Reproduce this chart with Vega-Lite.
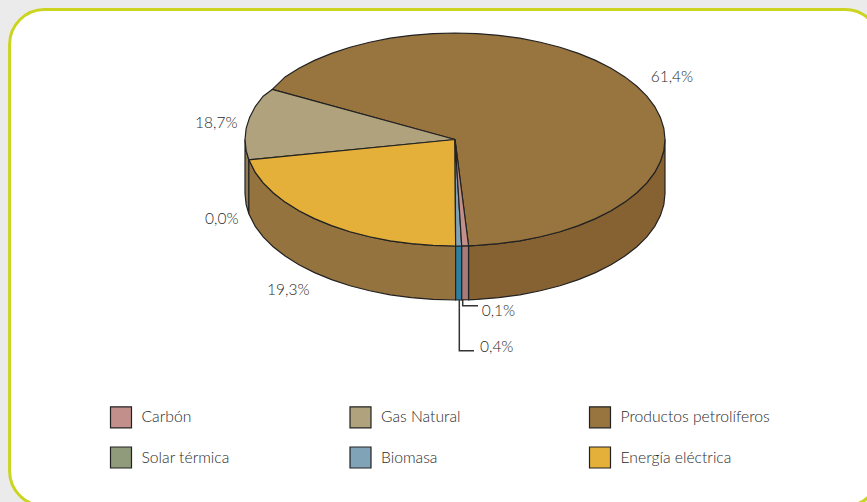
{
"$schema":"https://vega.github.io/schema/vega-lite/v6.json",
"width":867,"height":502,"padding":0,"autosize":{"type":"none"},
"background":"#ebebeb",
"config":{"view":{"stroke":null},"text":{"font":"Lato"}},
"datasets":{
"marco":[{"x":-2.121,"x2":2.024,"y":1.221,"y2":-3.441}],
"superior":[
{"fuente":"Productos petrolíferos","o":0,"x":0,"y":0},{"fuente":"Productos petrolíferos","o":1,"x":0.0645,"y":-0.9979},{"fuente":"Productos petrolíferos","o":2,"x":0.1045,"y":-0.9945},{"fuente":"Productos petrolíferos","o":3,"x":0.2079,"y":-0.9781},{"fuente":"Productos petrolíferos","o":4,"x":0.309,"y":-0.9511},{"fuente":"Productos petrolíferos","o":5,"x":0.4067,"y":-0.9135},{"fuente":"Productos petrolíferos","o":6,"x":0.5,"y":-0.866},{"fuente":"Productos petrolíferos","o":7,"x":0.5878,"y":-0.809},{"fuente":"Productos petrolíferos","o":8,"x":0.6691,"y":-0.7431},{"fuente":"Productos petrolíferos","o":9,"x":0.7431,"y":-0.6691},{"fuente":"Productos petrolíferos","o":10,"x":0.809,"y":-0.5878},{"fuente":"Productos petrolíferos","o":11,"x":0.866,"y":-0.5},{"fuente":"Productos petrolíferos","o":12,"x":0.9135,"y":-0.4067},{"fuente":"Productos petrolíferos","o":13,"x":0.9511,"y":-0.309},{"fuente":"Productos petrolíferos","o":14,"x":0.9781,"y":-0.2079},{"fuente":"Productos petrolíferos","o":15,"x":0.9945,"y":-0.1045},{"fuente":"Productos petrolíferos","o":16,"x":1,"y":0},{"fuente":"Productos petrolíferos","o":17,"x":0.9945,"y":0.1045},{"fuente":"Productos petrolíferos","o":18,"x":0.9781,"y":0.2079},{"fuente":"Productos petrolíferos","o":19,"x":0.9511,"y":0.309},{"fuente":"Productos petrolíferos","o":20,"x":0.9135,"y":0.4067},{"fuente":"Productos petrolíferos","o":21,"x":0.866,"y":0.5},{"fuente":"Productos petrolíferos","o":22,"x":0.809,"y":0.5878},{"fuente":"Productos petrolíferos","o":23,"x":0.7431,"y":0.6691},{"fuente":"Productos petrolíferos","o":24,"x":0.6691,"y":0.7431},{"fuente":"Productos petrolíferos","o":25,"x":0.5878,"y":0.809},{"fuente":"Productos petrolíferos","o":26,"x":0.5,"y":0.866},{"fuente":"Productos petrolíferos","o":27,"x":0.4067,"y":0.9135},{"fuente":"Productos petrolíferos","o":28,"x":0.309,"y":0.9511},{"fuente":"Productos petrolíferos","o":29,"x":0.2079,"y":0.9781},{"fuente":"Productos petrolíferos","o":30,"x":0.1045,"y":0.9945},{"fuente":"Productos petrolíferos","o":31,"x":0,"y":1},{"fuente":"Productos petrolíferos","o":32,"x":-0.1045,"y":0.9945},{"fuente":"Productos petrolíferos","o":33,"x":-0.2079,"y":0.9781},{"fuente":"Productos petrolíferos","o":34,"x":-0.309,"y":0.9511},{"fuente":"Productos petrolíferos","o":35,"x":-0.4067,"y":0.9135},{"fuente":"Productos petrolíferos","o":36,"x":-0.5,"y":0.866},{"fuente":"Productos petrolíferos","o":37,"x":-0.5878,"y":0.809},{"fuente":"Productos petrolíferos","o":38,"x":-0.6691,"y":0.7431},{"fuente":"Productos petrolíferos","o":39,"x":-0.7431,"y":0.6691},{"fuente":"Productos petrolíferos","o":40,"x":-0.809,"y":0.5878},{"fuente":"Productos petrolíferos","o":41,"x":-0.8701,"y":0.47},{"fuente":"Productos petrolíferos","o":42,"x":0,"y":0},
{"fuente":"Gas Natural","o":0,"x":0,"y":0},{"fuente":"Gas Natural","o":1,"x":-0.8701,"y":0.47},{"fuente":"Gas Natural","o":2,"x":-0.9135,"y":0.4067},{"fuente":"Gas Natural","o":3,"x":-0.9511,"y":0.309},{"fuente":"Gas Natural","o":4,"x":-0.9781,"y":0.2079},{"fuente":"Gas Natural","o":5,"x":-0.9945,"y":0.1045},{"fuente":"Gas Natural","o":6,"x":-1,"y":0},{"fuente":"Gas Natural","o":7,"x":-0.9945,"y":-0.1045},{"fuente":"Gas Natural","o":8,"x":-0.9816,"y":-0.1908},{"fuente":"Gas Natural","o":9,"x":0,"y":0},
{"fuente":"Energía eléctrica","o":0,"x":0,"y":0},{"fuente":"Energía eléctrica","o":1,"x":-0.9816,"y":-0.1908},{"fuente":"Energía eléctrica","o":2,"x":-0.9511,"y":-0.309},{"fuente":"Energía eléctrica","o":3,"x":-0.9135,"y":-0.4067},{"fuente":"Energía eléctrica","o":4,"x":-0.866,"y":-0.5},{"fuente":"Energía eléctrica","o":5,"x":-0.809,"y":-0.5878},{"fuente":"Energía eléctrica","o":6,"x":-0.7431,"y":-0.6691},{"fuente":"Energía eléctrica","o":7,"x":-0.6691,"y":-0.7431},{"fuente":"Energía eléctrica","o":8,"x":-0.5878,"y":-0.809},{"fuente":"Energía eléctrica","o":9,"x":-0.5,"y":-0.866},{"fuente":"Energía eléctrica","o":10,"x":-0.4067,"y":-0.9135},{"fuente":"Energía eléctrica","o":11,"x":-0.309,"y":-0.9511},{"fuente":"Energía eléctrica","o":12,"x":-0.2079,"y":-0.9781},{"fuente":"Energía eléctrica","o":13,"x":-0.1045,"y":-0.9945},{"fuente":"Energía eléctrica","o":14,"x":0.003,"y":-1},{"fuente":"Energía eléctrica","o":15,"x":0,"y":0},
{"fuente":"Biomasa","o":0,"x":0,"y":0},{"fuente":"Biomasa","o":1,"x":0.003,"y":-1},{"fuente":"Biomasa","o":2,"x":0.032,"y":-0.9995},{"fuente":"Biomasa","o":3,"x":0,"y":0},
{"fuente":"Carbón","o":0,"x":0,"y":0},{"fuente":"Carbón","o":1,"x":0.032,"y":-0.9995},{"fuente":"Carbón","o":2,"x":0.0645,"y":-0.9979},{"fuente":"Carbón","o":3,"x":0,"y":0}
],
"lateral":[
{"fuente":"Productos petrolíferos","o":0,"x":0.0645,"y":-0.9979},{"fuente":"Productos petrolíferos","o":1,"x":0.1045,"y":-0.9945},{"fuente":"Productos petrolíferos","o":2,"x":0.2079,"y":-0.9781},{"fuente":"Productos petrolíferos","o":3,"x":0.309,"y":-0.9511},{"fuente":"Productos petrolíferos","o":4,"x":0.4067,"y":-0.9135},{"fuente":"Productos petrolíferos","o":5,"x":0.5,"y":-0.866},{"fuente":"Productos petrolíferos","o":6,"x":0.5878,"y":-0.809},{"fuente":"Productos petrolíferos","o":7,"x":0.6691,"y":-0.7431},{"fuente":"Productos petrolíferos","o":8,"x":0.7431,"y":-0.6691},{"fuente":"Productos petrolíferos","o":9,"x":0.809,"y":-0.5878},{"fuente":"Productos petrolíferos","o":10,"x":0.866,"y":-0.5},{"fuente":"Productos petrolíferos","o":11,"x":0.9135,"y":-0.4067},{"fuente":"Productos petrolíferos","o":12,"x":0.9511,"y":-0.309},{"fuente":"Productos petrolíferos","o":13,"x":0.9781,"y":-0.2079},{"fuente":"Productos petrolíferos","o":14,"x":0.9945,"y":-0.1045},{"fuente":"Productos petrolíferos","o":15,"x":1,"y":0},{"fuente":"Productos petrolíferos","o":16,"x":1,"y":-0.507},{"fuente":"Productos petrolíferos","o":17,"x":0.9945,"y":-0.6115},{"fuente":"Productos petrolíferos","o":18,"x":0.9781,"y":-0.7149},{"fuente":"Productos petrolíferos","o":19,"x":0.9511,"y":-0.816},{"fuente":"Productos petrolíferos","o":20,"x":0.9135,"y":-0.9137},{"fuente":"Productos petrolíferos","o":21,"x":0.866,"y":-1.007},{"fuente":"Productos petrolíferos","o":22,"x":0.809,"y":-1.0948},{"fuente":"Productos petrolíferos","o":23,"x":0.7431,"y":-1.1761},{"fuente":"Productos petrolíferos","o":24,"x":0.6691,"y":-1.2501},{"fuente":"Productos petrolíferos","o":25,"x":0.5878,"y":-1.316},{"fuente":"Productos petrolíferos","o":26,"x":0.5,"y":-1.373},{"fuente":"Productos petrolíferos","o":27,"x":0.4067,"y":-1.4205},{"fuente":"Productos petrolíferos","o":28,"x":0.309,"y":-1.4581},{"fuente":"Productos petrolíferos","o":29,"x":0.2079,"y":-1.4851},{"fuente":"Productos petrolíferos","o":30,"x":0.1045,"y":-1.5015},{"fuente":"Productos petrolíferos","o":31,"x":0.0645,"y":-1.5049},{"fuente":"Productos petrolíferos","o":32,"x":0.0645,"y":-0.9979},
{"fuente":"Energía eléctrica","o":0,"x":-0.9816,"y":-0.1908},{"fuente":"Energía eléctrica","o":1,"x":-0.9511,"y":-0.309},{"fuente":"Energía eléctrica","o":2,"x":-0.9135,"y":-0.4067},{"fuente":"Energía eléctrica","o":3,"x":-0.866,"y":-0.5},{"fuente":"Energía eléctrica","o":4,"x":-0.809,"y":-0.5878},{"fuente":"Energía eléctrica","o":5,"x":-0.7431,"y":-0.6691},{"fuente":"Energía eléctrica","o":6,"x":-0.6691,"y":-0.7431},{"fuente":"Energía eléctrica","o":7,"x":-0.5878,"y":-0.809},{"fuente":"Energía eléctrica","o":8,"x":-0.5,"y":-0.866},{"fuente":"Energía eléctrica","o":9,"x":-0.4067,"y":-0.9135},{"fuente":"Energía eléctrica","o":10,"x":-0.309,"y":-0.9511},{"fuente":"Energía eléctrica","o":11,"x":-0.2079,"y":-0.9781},{"fuente":"Energía eléctrica","o":12,"x":-0.1045,"y":-0.9945},{"fuente":"Energía eléctrica","o":13,"x":0.003,"y":-1},{"fuente":"Energía eléctrica","o":14,"x":0.003,"y":-1.507},{"fuente":"Energía eléctrica","o":15,"x":-0.1045,"y":-1.5015},{"fuente":"Energía eléctrica","o":16,"x":-0.2079,"y":-1.4851},{"fuente":"Energía eléctrica","o":17,"x":-0.309,"y":-1.4581},{"fuente":"Energía eléctrica","o":18,"x":-0.4067,"y":-1.4205},{"fuente":"Energía eléctrica","o":19,"x":-0.5,"y":-1.373},{"fuente":"Energía eléctrica","o":20,"x":-0.5878,"y":-1.316},{"fuente":"Energía eléctrica","o":21,"x":-0.6691,"y":-1.2501},{"fuente":"Energía eléctrica","o":22,"x":-0.7431,"y":-1.1761},{"fuente":"Energía eléctrica","o":23,"x":-0.809,"y":-1.0948},{"fuente":"Energía eléctrica","o":24,"x":-0.866,"y":-1.007},{"fuente":"Energía eléctrica","o":25,"x":-0.9135,"y":-0.9137},{"fuente":"Energía eléctrica","o":26,"x":-0.9511,"y":-0.816},{"fuente":"Energía eléctrica","o":27,"x":-0.9816,"y":-0.6978},{"fuente":"Energía eléctrica","o":28,"x":-0.9816,"y":-0.1908},
{"fuente":"Gas Natural","o":0,"x":-1,"y":0},{"fuente":"Gas Natural","o":1,"x":-0.9945,"y":-0.1045},{"fuente":"Gas Natural","o":2,"x":-0.9816,"y":-0.1908},{"fuente":"Gas Natural","o":3,"x":-0.9816,"y":-0.6978},{"fuente":"Gas Natural","o":4,"x":-0.9945,"y":-0.6115},{"fuente":"Gas Natural","o":5,"x":-1,"y":-0.507},{"fuente":"Gas Natural","o":6,"x":-1,"y":0},
{"fuente":"Biomasa","o":0,"x":0.003,"y":-1},{"fuente":"Biomasa","o":1,"x":0.032,"y":-0.9995},{"fuente":"Biomasa","o":2,"x":0.032,"y":-1.5065},{"fuente":"Biomasa","o":3,"x":0.003,"y":-1.507},{"fuente":"Biomasa","o":4,"x":0.003,"y":-1},
{"fuente":"Carbón","o":0,"x":0.032,"y":-0.9995},{"fuente":"Carbón","o":1,"x":0.0645,"y":-0.9979},{"fuente":"Carbón","o":2,"x":0.0645,"y":-1.5049},{"fuente":"Carbón","o":3,"x":0.032,"y":-1.5065},{"fuente":"Carbón","o":4,"x":0.032,"y":-0.9995}
],
"guias":[
{"fuente":"Carbón","o":0,"x":0.0367,"y":-1.507},{"fuente":"Carbón","o":1,"x":0.0367,"y":-1.561},{"fuente":"Carbón","o":2,"x":0.1095,"y":-1.561},
{"fuente":"Biomasa","o":0,"x":0.0205,"y":-1.507},{"fuente":"Biomasa","o":1,"x":0.0205,"y":-1.983},{"fuente":"Biomasa","o":2,"x":0.0905,"y":-1.983}
],
"etiquetas":[
{"fuente":"Gas Natural","pct":18.7,"texto":"18,7%","x":-1.238,"y":0.155},
{"fuente":"Productos petrolíferos","pct":61.4,"texto":"61,4%","x":0.932,"y":0.59},
{"fuente":"Solar térmica","pct":0.0,"texto":"0,0%","x":-1.19,"y":-0.746},
{"fuente":"Energía eléctrica","pct":19.3,"texto":"19,3%","x":-0.895,"y":-1.413},
{"fuente":"Carbón","pct":0.1,"texto":"0,1%","x":0.127,"y":-1.61},
{"fuente":"Biomasa","pct":0.4,"texto":"0,4%","x":0.119,"y":-1.946}
]
},
"encoding":{
"x":{"field":"x","type":"quantitative","axis":null,"scale":{"domain":[-2.16667,1.9619],"nice":false,"zero":false}},
"y":{"field":"y","type":"quantitative","axis":null,"scale":{"domain":[-3.40376,1.30986],"nice":false,"zero":false}}
},
"layer":[
{"data":{"name":"marco"},"mark":{"type":"rect","fill":"#ffffff","stroke":"#cbd41e","strokeWidth":3,"cornerRadius":35},
 "encoding":{"x2":{"field":"x2"},"y2":{"field":"y2"}}},
{"data":{"name":"lateral"},"transform":[{"filter":"datum.fuente==='Gas Natural'"}],"mark":{"type":"line","fill":"#8f7d58","stroke":"#222222","strokeWidth":1.2},"encoding":{"order":{"field":"o"}}},
{"data":{"name":"lateral"},"transform":[{"filter":"datum.fuente==='Energía eléctrica'"}],"mark":{"type":"line","fill":"#94733f","stroke":"#222222","strokeWidth":1.2},"encoding":{"order":{"field":"o"}}},
{"data":{"name":"lateral"},"transform":[{"filter":"datum.fuente==='Productos petrolíferos'"}],"mark":{"type":"line","fill":"#866232","stroke":"#222222","strokeWidth":1.2},"encoding":{"order":{"field":"o"}}},
{"data":{"name":"lateral"},"transform":[{"filter":"datum.fuente==='Biomasa'"}],"mark":{"type":"line","fill":"#2f7fa3","stroke":"#222222","strokeWidth":1.2},"encoding":{"order":{"field":"o"}}},
{"data":{"name":"lateral"},"transform":[{"filter":"datum.fuente==='Carbón'"}],"mark":{"type":"line","fill":"#a87a78","stroke":"#222222","strokeWidth":1.2},"encoding":{"order":{"field":"o"}}},
{"data":{"name":"superior"},"mark":{"type":"line","stroke":"#222222","strokeWidth":1.2},
 "encoding":{"order":{"field":"o"},"detail":{"field":"fuente"},
 "fill":{"field":"fuente","type":"nominal","scale":{"domain":["Carbón","Gas Natural","Productos petrolíferos","Solar térmica","Biomasa","Energía eléctrica"],"range":["#c28f8a","#b0a27c","#98743f","#8f9b7a","#80a3b8","#e4b03a"]},
  "legend":{"title":null,"orient":"none","legendX":109.5,"legendY":405.5,"direction":"horizontal","columns":3,"gridAlign":"all","columnPadding":55.5,"rowPadding":13.5,"symbolType":"square","symbolSize":441,"symbolStrokeColor":"#222222","symbolStrokeWidth":1.2,"symbolOpacity":1,"labelFont":"Lato","labelFontSize":15.7,"labelFontWeight":300,"labelColor":"#2a2a2a","labelOffset":9,"labelLimit":200}}}},
{"data":{"name":"guias"},"mark":{"type":"line","stroke":"#333333","strokeWidth":1.5},"encoding":{"order":{"field":"o"},"detail":{"field":"fuente"}}},
{"data":{"name":"etiquetas"},"mark":{"type":"text","align":"left","baseline":"middle","font":"Lato","fontSize":15.5,"fontWeight":300,"fill":"#2a2a2a"},"encoding":{"text":{"field":"texto"}}}
]
}
